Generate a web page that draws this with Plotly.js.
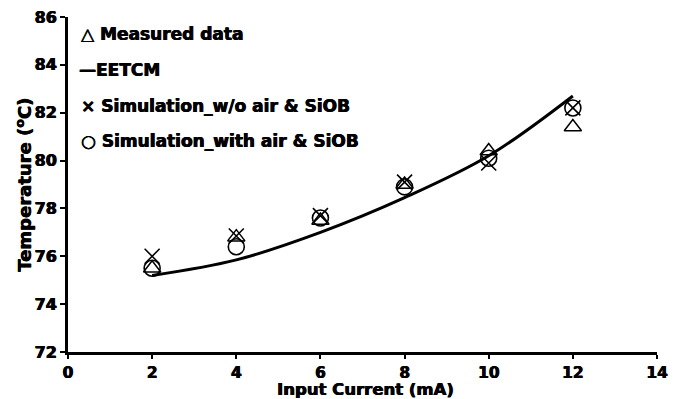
<!DOCTYPE html>
<html><head><meta charset="utf-8">
<script src="https://cdn.plot.ly/plotly-3.0.1.min.js"></script>
<style>html,body{margin:0;padding:0;background:#fff}</style>
</head><body>
<div id="chart" style="width:684px;height:399px"></div>
<script>
const current = [2, 4, 6, 8, 10, 12];
const measured = [75.5, 76.8, 77.5, 79.0, 80.4, 81.4];
const eetcm = [75.2, 75.85, 77.0, 78.45, 80.2, 82.7];
const simNoAir = [76.0, 76.85, 77.7, 79.1, 79.9, 82.2];
const simAir = [75.5, 76.4, 77.6, 78.9, 80.1, 82.2];
const legendLabels = ['\u25B3 Measured data', '\u2014EETCM', '\u00D7 Simulation_w/o air & SiOB', '\u25CB Simulation_with air & SiOB'];
const xTicks = [0, 2, 4, 6, 8, 10, 12, 14];
const yTicks = [72, 74, 76, 78, 80, 82, 84, 86];
const xTitle = 'Input Current (mA)';
const yTitle = 'Temperature (<sup>o</sup>C)';

const font = 'DejaVu Sans, Arial, sans-serif';
const F = (size) => ({family: font, size: size, color: '#000', weight: 'bold', shadow: '0.5px 0 0 #000, -0.3px 0 0 #000'});
const traces = [
  {x: current, y: eetcm, mode: 'lines', name: 'EETCM', line: {color: '#000', width: 3, shape: 'spline'}, showlegend: false},
  {x: current, y: measured, mode: 'markers', name: 'Measured data', marker: {symbol: 'triangle-up-open', size: 15, color: '#000', line: {width: 1.5, color: '#000'}}, showlegend: false},
  {x: current, y: simNoAir, mode: 'markers', name: 'Simulation_w/o air & SiOB', marker: {symbol: 'x-thin-open', size: 15, color: '#000', line: {width: 1.6, color: '#000'}}, showlegend: false},
  {x: current, y: simAir, mode: 'markers', name: 'Simulation_with air & SiOB', marker: {symbol: 'circle-open', size: 16, color: '#000', line: {width: 1.6, color: '#000'}}, showlegend: false}
];
const legendY = [85.3, 83.8, 82.3, 80.82];
const annotations = legendLabels.map((t, i) => ({
  xref: 'paper', yref: 'y', x: i === 1 ? 0.015 : 0.019, y: legendY[i], xanchor: 'left', yanchor: 'middle',
  text: t, showarrow: false, font: F(17)
}));
annotations.push({
  xref: 'paper', yref: 'paper', x: 0.505, y: -0.111, xanchor: 'center', yanchor: 'middle',
  text: xTitle, showarrow: false, font: F(16.5)
});
annotations.push({
  xref: 'paper', yref: 'paper', x: -0.076, y: 0.5, xanchor: 'center', yanchor: 'middle', textangle: -90,
  text: yTitle, showarrow: false, font: F(18)
});
const layout = {
  width: 684, height: 399,
  margin: {l: 68, r: 27, t: 17, b: 47},
  paper_bgcolor: '#fff', plot_bgcolor: '#fff',
  showlegend: false,
  font: {family: font, color: '#000'},
  xaxis: {
    range: [0, 14], tickvals: xTicks, ticktext: xTicks.map(String),
    showgrid: false, zeroline: false, showline: true, linecolor: '#000', linewidth: 3,
    ticks: 'outside', ticklen: 4, tickwidth: 2, tickcolor: '#000',
    tickfont: F(15.5)
  },
  yaxis: {
    range: [72, 86], tickvals: yTicks, ticktext: yTicks.map(String),
    showgrid: false, zeroline: false, showline: true, linecolor: '#000', linewidth: 3,
    ticks: 'outside', ticklen: 5, tickwidth: 2, tickcolor: '#000',
    tickfont: F(16)
  },
  annotations: annotations
};
Plotly.newPlot('chart', traces, layout, {displayModeBar: false, staticPlot: true});
</script>
</body></html>
